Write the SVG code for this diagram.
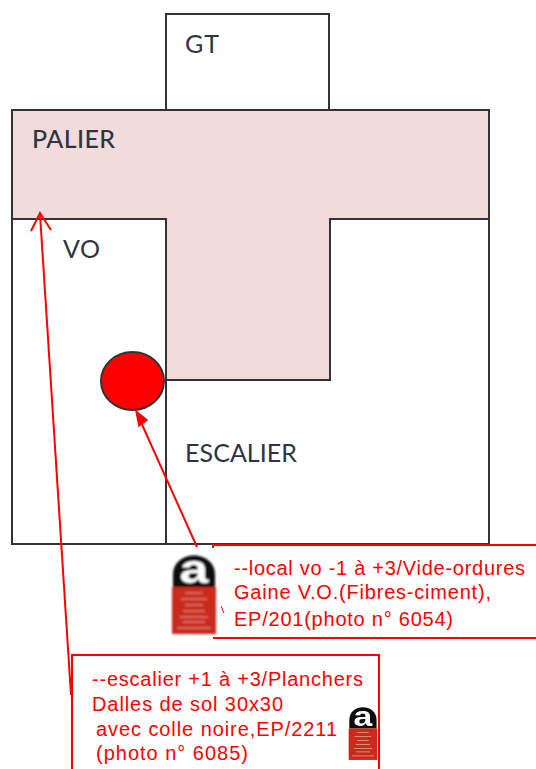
<svg xmlns="http://www.w3.org/2000/svg" width="536" height="769" viewBox="0 0 536 769">
<style>
.wall{stroke:#333;stroke-width:2;fill:#fff}
.label{font-family:Lato,"Noto Sans",sans-serif;font-size:25px;fill:#2f3540}
.note{font-family:"Liberation Sans",Arial,sans-serif;font-size:20px;fill:#f00}
.red{stroke:#f00;stroke-width:2;fill:none}
.tiny{stroke:#eaa595;stroke-width:1.200;fill:none}
</style>
<defs>
<filter id="soft" x="-10%" y="-10%" width="120%" height="120%"><feGaussianBlur stdDeviation="1"/></filter>
<g id="asbestos" filter="url(#soft)">
<path d="M2 32 V20 C2 -6 44 -6 44 20 V32Z" fill="#0c0c0c"/>
<rect x="1" y="32" width="44" height="47" fill="#c9291a"/>
<text x="23" y="28" text-anchor="middle" font-family="'Liberation Sans',Arial,sans-serif" font-weight="700" font-size="40" fill="#fff" transform="translate(-7,0) scale(1.3,1)">a</text>
<path class="tiny" d="M14 38H32M10 44H36M14 50H32M12 56H34M9 62H37M12 67H34M6 73H40"/>
</g>
</defs>
<g id="building">
<rect class="wall" x="12" y="219" width="477" height="325"/>
<line class="wall" x1="166" y1="219" x2="166" y2="544"/>
</g>
<g id="node-gt">
<rect class="wall" x="166" y="14" width="163" height="96"/>
<text class="label" x="185" y="53" textLength="34">GT</text>
</g>
<g id="node-palier">
<path d="M12 110H489V219H330V380H166V219H12Z" fill="#f1dcdb" stroke="#333" stroke-width="2"/>
<text class="label" x="32" y="148" textLength="83" font-weight="500">PALIER</text>
</g>
<g id="node-vo">
<text class="label" x="63" y="258" textLength="37">VO</text>
</g>
<g id="node-escalier">
<text class="label" x="185" y="462" textLength="112">ESCALIER</text>
</g>
<g id="node-point">
<ellipse cx="132.500" cy="381" rx="31.500" ry="29" fill="#f00" stroke="#333" stroke-width="2"/>
</g>
<g id="connectors">
<path class="red" d="M197 547L140 420"/>
<path d="M136 411L147 420L139 426Z" fill="#f00" stroke="#f00" stroke-width="1.500"/>
<path class="red" d="M71 695L40 214"/>
<path class="red" d="M31 231L40 213L51 230"/>
<path d="M221 606L224 613" stroke="#f00" stroke-width="1" fill="none"/>
</g>
<g id="note-local">
<path class="red" d="M213 548V545H536M213 638H536"/>
<use href="#asbestos" transform="translate(171,555)"/>
<text class="note" x="234" y="575" textLength="291">--local vo -1 à +3/Vide-ordures</text>
<text class="note" x="234" y="599" textLength="257">Gaine V.O.(Fibres-ciment),</text>
<text class="note" x="234" y="626" textLength="219">EP/201(photo n° 6054)</text>
</g>
<g id="note-escalier">
<use href="#asbestos" transform="translate(348,707) scale(0.65,0.67)"/>
<path class="red" d="M72 769V655H379V769"/>
<text class="note" x="92" y="686" textLength="271">--escalier +1 à +3/Planchers</text>
<text class="note" x="92" y="711" textLength="191">Dalles de sol 30x30</text>
<text class="note" x="96" y="736" textLength="241">avec colle noire,EP/2211</text>
<text class="note" x="96" y="760" textLength="152">(photo n° 6085)</text>
</g>
</svg>
